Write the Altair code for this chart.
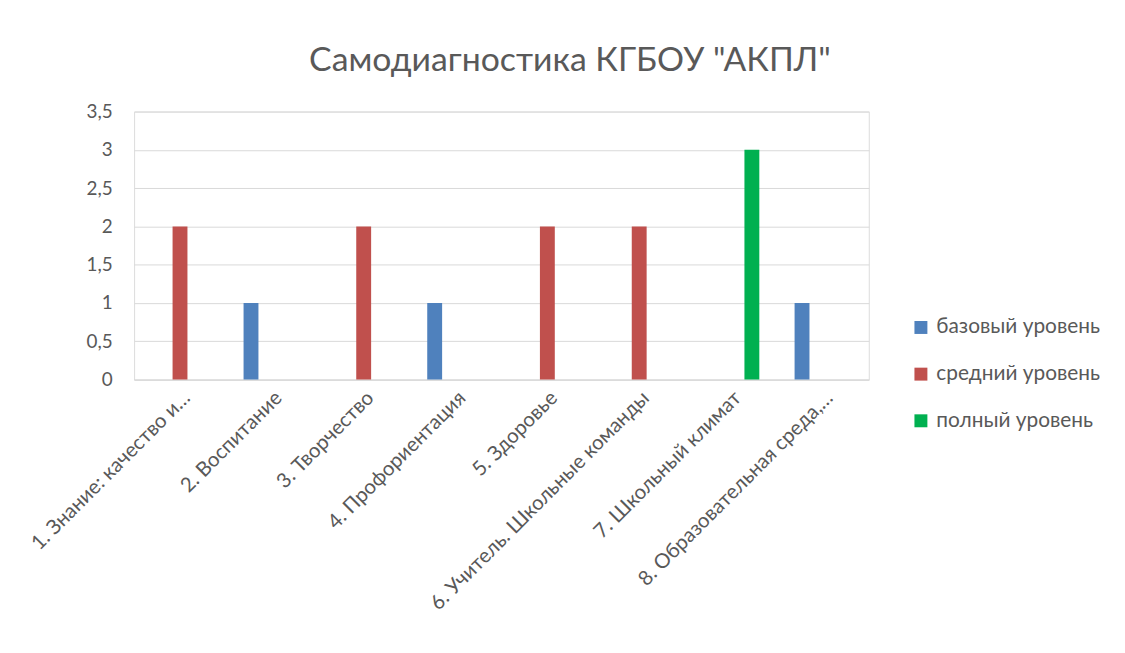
import altair as alt
import pandas as pd

categories = [
    "1. Знание: качество и…",
    "2. Воспитание",
    "3. Творчество",
    "4. Профориентация",
    "5. Здоровье",
    "6. Учитель. Школьные команды",
    "7. Школьный климат",
    "8. Образовательная среда,…",
]
series_names = ["базовый уровень", "средний уровень", "полный уровень"]
base_level = [0, 1, 0, 1, 0, 0, 0, 1]
mid_level = [2, 0, 2, 0, 2, 2, 0, 0]
full_level = [0, 0, 0, 0, 0, 0, 3, 0]
colors = ["#4F81BD", "#C0504D", "#00B050"]

rows = []
for name, vals in zip(series_names, [base_level, mid_level, full_level]):
    for c, v in zip(categories, vals):
        rows.append({"cat": c, "series": name, "value": v})
df = pd.DataFrame(rows)

FONT = "Lato"
GREY = "#595959"

chart = (
    alt.Chart(df)
    .mark_bar()
    .encode(
        x=alt.X(
            "cat:N",
            sort=categories,
            title=None,
            scale=alt.Scale(paddingInner=0.384, paddingOuter=0.192),
            axis=alt.Axis(
                labelAngle=-45,
                labelFontSize=20.5,
                labelColor=GREY,
                labelFont=FONT,
                ticks=False,
                grid=False,
                domainColor="#D9D9D9",
                labelPadding=8,
                labelLimit=400,
            ),
        ),
        xOffset=alt.XOffset("series:N", sort=series_names, scale=alt.Scale(paddingInner=0.286)),
        y=alt.Y(
            "value:Q",
            title=None,
            scale=alt.Scale(domain=[0, 3.5]),
            axis=alt.Axis(
                values=[0, 0.5, 1, 1.5, 2, 2.5, 3, 3.5],
                labelExpr="replace(format(datum.value, '~g'), '.', ',')",
                labelFontSize=19,
                labelColor=GREY,
                labelFont=FONT,
                ticks=False,
                domain=False,
                gridColor="#D9D9D9",
                gridWidth=1,
                labelPadding=22,
            ),
        ),
        color=alt.Color(
            "series:N",
            sort=series_names,
            scale=alt.Scale(domain=series_names, range=colors),
            legend=alt.Legend(
                title=None,
                orient="none",
                legendX=782,
                legendY=207,
                symbolType="square",
                symbolSize=170,
                symbolStrokeWidth=0,
                labelFontSize=21,
                labelFont=FONT,
                labelColor=GREY,
                rowPadding=25,
                labelOffset=5,
                labelLimit=300,
            ),
        ),
    )
    .properties(
        width=740,
        height=270,
        autosize=alt.AutoSizeParams(type="none"),
        padding={"left": 127, "top": 102, "right": 250, "bottom": 260},
        title=alt.TitleParams(
            "Самодиагностика КГБОУ \"АКПЛ\"",
            fontSize=34,
            font=FONT,
            fontWeight="normal",
            color=GREY,
            anchor="middle",
            dx=69,
            offset=25,
        ),
    )
    .configure_view(stroke=None)
    .configure(background="white")
)

chart.save("out.html", embed_options={"renderer": "svg", "actions": False})
